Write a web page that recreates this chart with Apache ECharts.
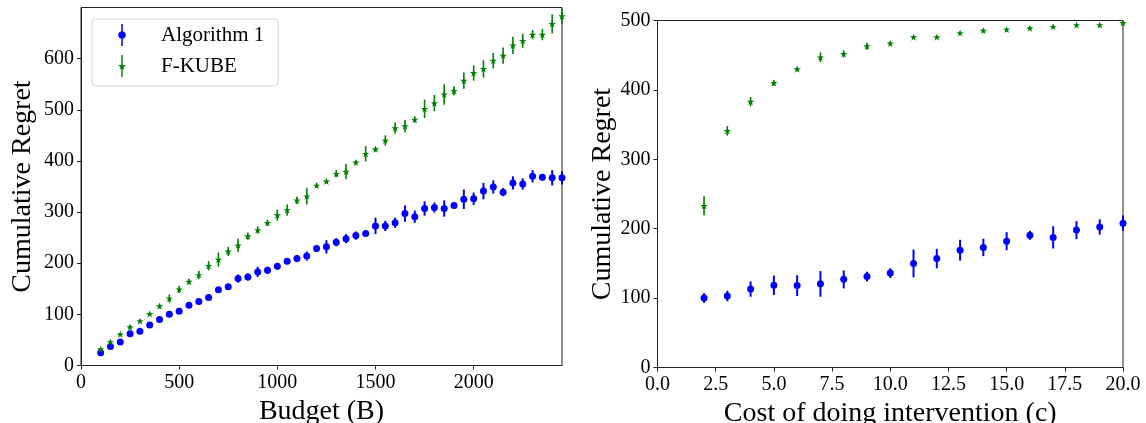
<!DOCTYPE html>
<html><head><meta charset="utf-8">
<script src="https://cdn.jsdelivr.net/npm/echarts@6/dist/echarts.min.js"></script>
<style>html,body{margin:0;padding:0;background:#fff}#c{width:1146px;height:423px}</style>
</head><body><div id="c"></div>
<script>
// ---- Left panel: regret vs budget ----
const budget = [100,150,200,250,300,350,400,450,500,550,600,650,700,750,800,850,900,950,1000,1050,1100,1150,1200,1250,1300,1350,1400,1450,1500,1550,1600,1650,1700,1750,1800,1850,1900,1950,2000,2050,2100,2150,2200,2250,2300,2350,2400,2450];
const algBudget = [25,37,46,62,67,79,90,100,106,118,125,133,148,154,170,173,183,186,194,204,209,214,229,232,241,248,254,258,273,273,279,297,291,307,309,307,313,325,326,341,349,339,357,355,370,368,367,367];
const algBudgetErr = [3,3,3,3,3,3,3,4,3,3,3,4,3,4,8,7,10,7,6,6,7,9,6,13,8,9,8,5,16,10,10,16,12,14,10,16,5,19,12,16,13,8,13,11,12,6,15,13];
const fkubeBudget = [32,46,61,75,87,101,116,131,149,164,177,195,207,223,235,253,265,279,294,304,323,331,352,360,375,379,397,414,423,440,464,468,481,502,513,530,537,557,572,580,596,606,626,635,647,647,668,683];
const fkubeBudgetErr = [3,4,3,4,3,3,4,8,7,5,8,9,14,9,13,7,7,6,11,11,7,16,5,4,7,15,4,15,5,10,11,12,6,18,16,20,9,16,15,17,15,16,17,14,9,11,19,15];
const budgetTicks = [0,500,1000,1500,2000];
const regretTicksLeft = [0,100,200,300,400,500,600];

// ---- Right panel: regret vs cost of intervention ----
const cost = [2,3,4,5,6,7,8,9,10,11,12,13,14,15,16,17,18,19,20];
const algCost = [100,103,113,118.5,118,120.5,127,131,136,150,157,169,173,182,190.5,187.5,198,202.5,208];
const algCostErr = [7,7.5,11,14,15,18.5,13,7,7,20,14,15,12.5,13,6.5,16,13,11,11];
const fkubeCost = [233,341,383,410,430,447,452,463,467,476,476,482,485.5,487,489,491,493.5,493.5,496.5];
const fkubeCostErr = [14,7,6.5,4,3,7,5,5,3,2,2,2,2,2,2,2,2,2,2];
const costTicks = [0,2.5,5,7.5,10,12.5,15,17.5,20];
const regretTicksRight = [0,100,200,300,400,500];

const names = ['Algorithm 1','F-KUBE'];
const BLUE = '#0000ff', GREEN = '#008000';
const FONT = 'Liberation Serif';
const STAR = 'path://M10,0 L12.245,6.91 L19.51,6.91 L13.63,11.18 L15.88,18.09 L10,13.82 L4.12,18.09 L6.37,11.18 L0.49,6.91 L7.755,6.91 Z';
const ICON_CIRCLE = 'path://M4.25,0 L5.75,0 L5.75,22 L4.25,22 Z M8.8,11 L8.51,12.46 L7.69,13.69 L6.46,14.51 L5,14.8 L3.54,14.51 L2.31,13.69 L1.49,12.46 L1.2,11 L1.49,9.54 L2.31,8.31 L3.54,7.49 L5,7.2 L6.46,7.49 L7.69,8.31 L8.51,9.54 Z';
const ICON_STAR = 'path://M4.3,0 L5.7,0 L5.7,22 L4.3,22 Z M5,7.2 L5.95,10.1 L9,10.1 L6.5,11.9 L7.45,14.8 L5,13 L2.55,14.8 L3.5,11.9 L1,10.1 L4.05,10.1 Z';

const zip = (xs, ys) => xs.map((x, i) => [x, ys[i]]);
const zip3 = (xs, ys, es) => xs.map((x, i) => [x, ys[i], es[i]]);

function errRender(lw) {
  return function (params, api) {
    const x = api.value(0), y = api.value(1), e = api.value(2);
    const p1 = api.coord([x, y - e]);
    const p2 = api.coord([x, y + e]);
    return { type: 'line', shape: { x1: p1[0], y1: p1[1], x2: p2[0], y2: p2[1] },
      style: { stroke: api.visual('color'), lineWidth: lw } };
  };
}

const axisCommon = {
  axisLine: { show: true, onZero: false, lineStyle: { color: '#222', width: 1 } },
  axisTick: { show: true, inside: false, length: 4, lineStyle: { color: '#222', width: 1 } },
  splitLine: { show: false },
  axisLabel: { color: '#000', fontFamily: FONT, fontSize: 20 },
  nameLocation: 'middle',
  nameTextStyle: { color: '#000', fontFamily: FONT, fontSize: 28 }
};

function mkX(idx, min, max, ticks, name, fmt) {
  return Object.assign({}, axisCommon, {
    type: 'value', gridIndex: idx, min: min, max: max, name: name, nameGap: 29,
    axisTick: Object.assign({}, axisCommon.axisTick, { customValues: ticks }),
    axisLabel: Object.assign({}, axisCommon.axisLabel, { customValues: ticks, margin: 7, formatter: fmt })
  });
}
function mkY(idx, min, max, ticks, gap) {
  return Object.assign({}, axisCommon, {
    type: 'value', gridIndex: idx, min: min, max: max, name: 'Cumulative Regret', nameGap: gap,
    axisTick: Object.assign({}, axisCommon.axisTick, { customValues: ticks }),
    axisLabel: Object.assign({}, axisCommon.axisLabel, { customValues: ticks, margin: 7 })
  });
}

const chart = echarts.init(document.getElementById('c'), null, { renderer: 'canvas' });
chart.setOption({
  animation: false,
  backgroundColor: '#fff',
  textStyle: { fontFamily: FONT },
  grid: [
    { left: 81, top: 7.5, width: 481, height: 358, show: true, borderColor: '#222', borderWidth: 1, outerBoundsMode: 'none' },
    { left: 657.5, top: 20.5, width: 465.5, height: 347, show: true, borderColor: '#222', borderWidth: 1, outerBoundsMode: 'none' }
  ],
  xAxis: [
    mkX(0, 0, 2450, budgetTicks, 'Budget (B)', v => String(v)),
    mkX(1, 0, 20, costTicks, 'Cost of doing intervention (c)', v => v.toFixed(1))
  ],
  yAxis: [
    mkY(0, 0, 700, regretTicksLeft, 44),
    mkY(1, 0, 500, regretTicksRight, 40)
  ],
  legend: {
    left: 92, top: 19, orient: 'vertical',
    padding: [5, 14, 9, 26],
    itemWidth: 10, itemHeight: 22, itemGap: 9,
    backgroundColor: 'rgba(255,255,255,0.8)',
    borderColor: '#d6d6d6', borderWidth: 1, borderRadius: 4,
    textStyle: { color: '#000', fontFamily: FONT, fontSize: 21, padding: [0, 0, 0, 29] },
    data: [ { name: names[0], icon: ICON_CIRCLE }, { name: names[1], icon: ICON_STAR } ]
  },
  series: [
    { type: 'custom', xAxisIndex: 0, yAxisIndex: 0, itemStyle: { color: BLUE }, renderItem: errRender(2),
      data: zip3(budget, algBudget, algBudgetErr), z: 2 },
    { name: names[0], type: 'scatter', xAxisIndex: 0, yAxisIndex: 0, symbol: 'circle', symbolSize: 7,
      itemStyle: { color: BLUE, opacity: 1 }, data: zip(budget, algBudget), z: 3 },
    { type: 'custom', xAxisIndex: 0, yAxisIndex: 0, itemStyle: { color: GREEN }, renderItem: errRender(1.6),
      data: zip3(budget, fkubeBudget, fkubeBudgetErr), z: 4 },
    { name: names[1], type: 'scatter', xAxisIndex: 0, yAxisIndex: 0, symbol: STAR, symbolSize: [7.5, 7.1],
      itemStyle: { color: GREEN, opacity: 1 }, data: zip(budget, fkubeBudget), z: 5 },

    { type: 'custom', xAxisIndex: 1, yAxisIndex: 1, itemStyle: { color: BLUE }, renderItem: errRender(2),
      data: zip3(cost, algCost, algCostErr), z: 2 },
    { name: names[0], type: 'scatter', xAxisIndex: 1, yAxisIndex: 1, symbol: 'circle', symbolSize: 7,
      itemStyle: { color: BLUE, opacity: 1 }, data: zip(cost, algCost), z: 3 },
    { type: 'custom', xAxisIndex: 1, yAxisIndex: 1, itemStyle: { color: GREEN }, renderItem: errRender(1.6),
      data: zip3(cost, fkubeCost, fkubeCostErr), z: 4 },
    { name: names[1], type: 'scatter', xAxisIndex: 1, yAxisIndex: 1, symbol: STAR, symbolSize: [7.5, 7.1],
      itemStyle: { color: GREEN, opacity: 1 }, data: zip(cost, fkubeCost), z: 5 }
  ]
});
</script>
</body></html>
